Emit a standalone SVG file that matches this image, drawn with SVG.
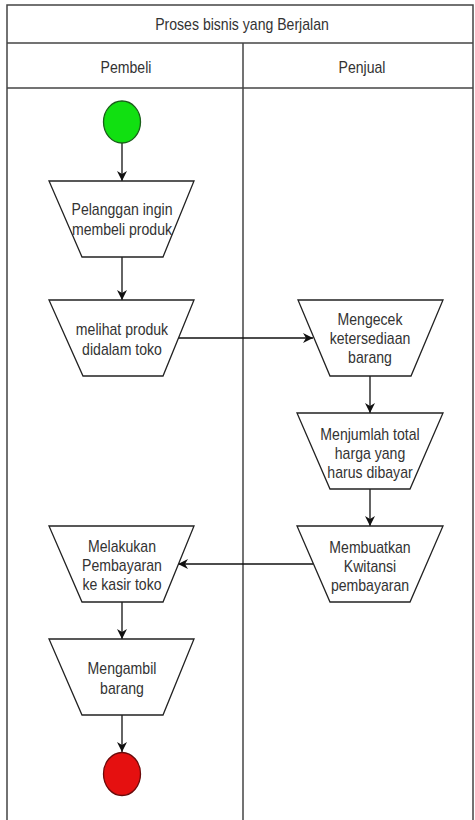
<svg xmlns="http://www.w3.org/2000/svg" width="475" height="820" viewBox="0 0 475 820">
<style>
.lane{fill:none;stroke:#444;stroke-width:1.5}
.box{fill:#fff;stroke:#222;stroke-width:1.3}
.t{font-family:"Liberation Sans",Arial,sans-serif;font-size:16px;fill:#333;text-anchor:middle}
.c{fill:none;stroke:#111;stroke-width:1.3}
</style>
<defs>
<marker id="a" viewBox="0 0 10 10" refX="10" refY="5" markerWidth="10" markerHeight="10" markerUnits="userSpaceOnUse" orient="auto">
<path d="M0,0 L10,5 L0,10 L3,5 Z" fill="#111"/>
</marker>
</defs>
<rect width="475" height="820" fill="#fff"/>
<g id="pool">
<rect class="lane" x="7" y="5" width="466" height="820"/>
<line class="lane" x1="7" y1="43" x2="473" y2="43"/>
<line class="lane" x1="7" y1="88" x2="473" y2="88"/>
<line class="lane" x1="243" y1="43" x2="243" y2="820"/>
<g transform="translate(242 0) scale(0.88 1)"><text class="t" x="0" y="30">Proses bisnis yang Berjalan</text></g>
<g transform="translate(126 0) scale(0.88 1)"><text class="t" x="0" y="73">Pembeli</text></g>
<g transform="translate(362 0) scale(0.88 1)"><text class="t" x="0" y="73">Penjual</text></g>
</g>
<g id="connectors">
<line class="c" x1="122" y1="143" x2="122" y2="181" marker-end="url(#a)"/>
<line class="c" x1="122" y1="257" x2="122" y2="300" marker-end="url(#a)"/>
<line class="c" x1="178" y1="338" x2="313" y2="338" marker-end="url(#a)"/>
<line class="c" x1="370" y1="376" x2="370" y2="413" marker-end="url(#a)"/>
<line class="c" x1="370" y1="489" x2="370" y2="526" marker-end="url(#a)"/>
<line class="c" x1="313" y1="564" x2="178" y2="564" marker-end="url(#a)"/>
<line class="c" x1="122" y1="602" x2="122" y2="639" marker-end="url(#a)"/>
<line class="c" x1="122" y1="715" x2="122" y2="752" marker-end="url(#a)"/>
</g>
<g id="start">
<ellipse cx="122" cy="122" rx="18.5" ry="21" fill="#11e011" stroke="#1a5e1a" stroke-width="1.3"/>
</g>
<g id="n1">
<polygon class="box" points="49,181 194,181 163,257 82,257"/>
<g transform="translate(122 0) scale(0.88 1)">
<text class="t" x="0" y="215">Pelanggan ingin</text>
<text class="t" x="0" y="235">membeli produk</text>
</g>
</g>
<g id="n2">
<polygon class="box" points="49,300 194,300 163,376 83,376"/>
<g transform="translate(122 0) scale(0.88 1)">
<text class="t" x="0" y="335">melihat produk</text>
<text class="t" x="0" y="355">didalam toko</text>
</g>
</g>
<g id="n3">
<polygon class="box" points="298,300 443,300 411,376 330,376"/>
<g transform="translate(370 0) scale(0.88 1)">
<text class="t" x="0" y="325">Mengecek</text>
<text class="t" x="0" y="344">ketersediaan</text>
<text class="t" x="0" y="363">barang</text>
</g>
</g>
<g id="n4">
<polygon class="box" points="297,413 443,413 410,489 330,489"/>
<g transform="translate(370 0) scale(0.88 1)">
<text class="t" x="0" y="440">Menjumlah total</text>
<text class="t" x="0" y="459">harga yang</text>
<text class="t" x="0" y="478">harus dibayar</text>
</g>
</g>
<g id="n5">
<polygon class="box" points="297,526 443,526 410,602 330,602"/>
<g transform="translate(370 0) scale(0.88 1)">
<text class="t" x="0" y="553">Membuatkan</text>
<text class="t" x="0" y="572">Kwitansi</text>
<text class="t" x="0" y="591">pembayaran</text>
</g>
</g>
<g id="n6">
<polygon class="box" points="49,526 194,526 163,602 82,602"/>
<g transform="translate(122 0) scale(0.88 1)">
<text class="t" x="0" y="552">Melakukan</text>
<text class="t" x="0" y="571">Pembayaran</text>
<text class="t" x="0" y="590">ke kasir toko</text>
</g>
</g>
<g id="n7">
<polygon class="box" points="49,639 194,639 163,715 82,715"/>
<g transform="translate(122 0) scale(0.88 1)">
<text class="t" x="0" y="674">Mengambil</text>
<text class="t" x="0" y="694">barang</text>
</g>
</g>
<g id="end">
<ellipse cx="122" cy="774" rx="18.5" ry="21.5" fill="#e51010" stroke="#6a0a0a" stroke-width="1.3"/>
</g>
</svg>
